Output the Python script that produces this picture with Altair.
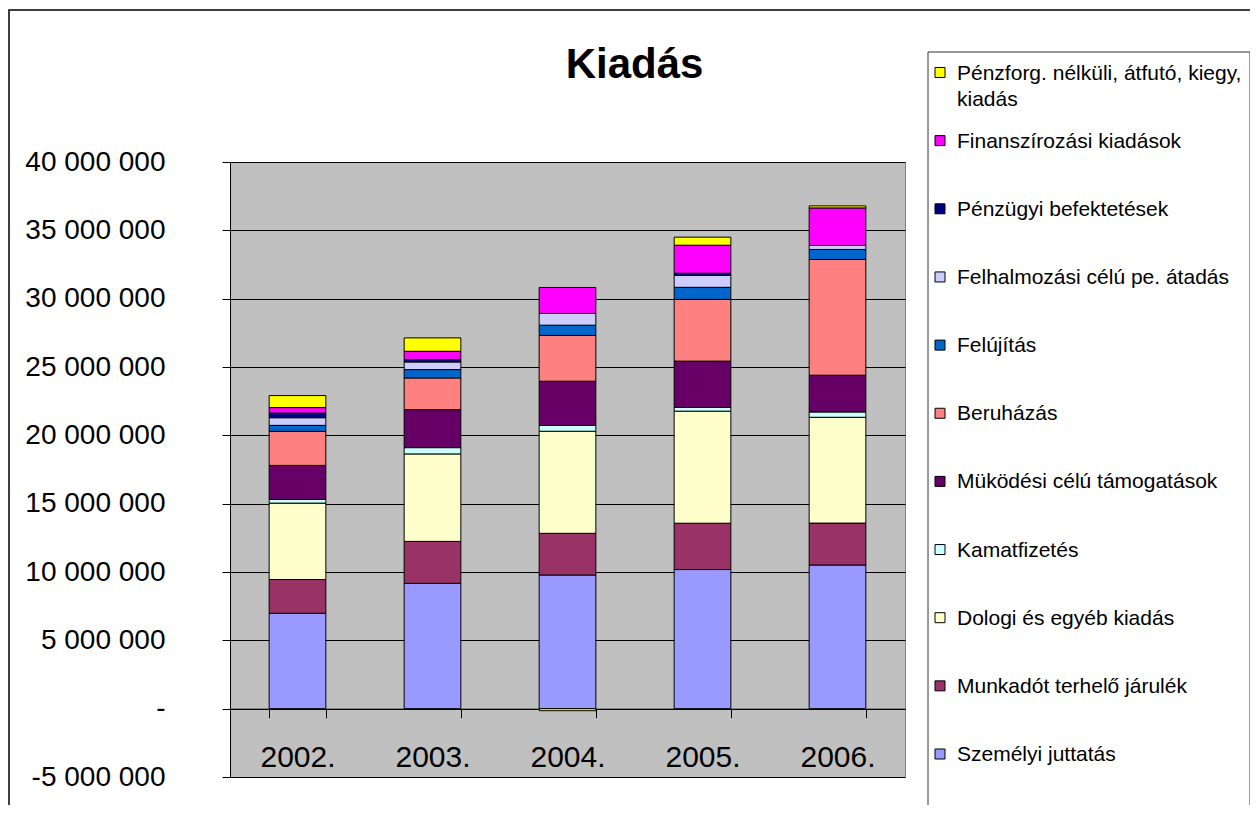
import altair as alt
import pandas as pd

years = ["2002.", "2003.", "2004.", "2005.", "2006."]

# series listed bottom -> top of the stack
series_names = [
    "Személyi juttatás",
    "Munkadót terhelő járulék",
    "Dologi és egyéb kiadás",
    "Kamatfizetés",
    "Müködési célú támogatások",
    "Beruházás",
    "Felújítás",
    "Felhalmozási célú pe. átadás",
    "Pénzügyi befektetések",
    "Finanszírozási kiadások",
    "Pénzforg. nélküli, átfutó, kiegy, kiadás",
]
series_labels = [
    "Személyi juttatás",
    "Munkadót terhelő járulék",
    "Dologi és egyéb kiadás",
    "Kamatfizetés",
    "Müködési célú támogatások",
    "Beruházás",
    "Felújítás",
    "Felhalmozási célú pe. átadás",
    "Pénzügyi befektetések",
    "Finanszírozási kiadások",
    "Pénzforg. nélküli, átfutó, kiegy,\nkiadás",
]
colors = [
    "#9999FF", "#993366", "#FFFFCC", "#CCFFFF", "#660066", "#FF8080",
    "#0066CC", "#CCCCFF", "#000080", "#FF00FF", "#FFFF00",
]

szemelyi = [6980000, 9170000, 9780000, 10180000, 10510000]
munkaado = [2470000, 3070000, 3050000, 3390000, 3070000]
dologi = [5590000, 6400000, 7470000, 8200000, 7740000]
kamat = [270000, 460000, 420000, 270000, 390000]
mukodesi = [2490000, 2780000, 3240000, 3390000, 2690000]
beruhazas = [2490000, 2320000, 3350000, 4520000, 8470000]
felujitas = [440000, 610000, 750000, 880000, 730000]
felhalmozasi = [560000, 560000, 860000, 880000, 290000]
penzugyi = [340000, 170000, 0, 150000, 0]
finanszirozasi = [400000, 610000, 1900000, 2050000, 2750000]
penzforg = [880000, 980000, -150000, 590000, 150000]

series_values = [szemelyi, munkaado, dologi, kamat, mukodesi, beruhazas,
                 felujitas, felhalmozasi, penzugyi, finanszirozasi, penzforg]

title_text = "Kiadás"

rows = []
for i, (name, vals) in enumerate(zip(series_names, series_values)):
    for year, v in zip(years, vals):
        rows.append({"year": year, "series": name, "idx": i, "value": v})
df = pd.DataFrame(rows)

legend_order = list(reversed(series_names))
legend_df = pd.DataFrame({
    "series": series_names,
    "label": series_labels,
})
frame_df = pd.DataFrame({"k": [0]})

FONT = "Liberation Sans"
color_scale = alt.Scale(domain=series_names, range=colors)

y_ticks = list(range(-5000000, 40000001, 5000000))

bars = alt.Chart(df).mark_bar(stroke="black", strokeWidth=1).encode(
    x=alt.X(
        "year:N", sort=years,
        scale=alt.Scale(paddingInner=0.58, paddingOuter=0.29),
        axis=alt.Axis(
            title=None, orient="bottom", offset=-68.3, labelAngle=0,
            labelFontSize=30, labelFont=FONT, labelColor="black",
            tickBand="extent", tickSize=9, tickColor="black",
            domainColor="black", labelPadding=25, grid=False,
        ),
    ),
    y=alt.Y(
        "value:Q", stack="zero",
        scale=alt.Scale(domain=[-5000000, 40000000], nice=False, zero=False),
        axis=alt.Axis(
            title=None, values=y_ticks,
            labelExpr="datum.value == 0 ? '-\u00a0\u00a0\u00a0' : replace(replace(replace(format(datum.value, ','), ',', ' '), ',', ' '), '\u2212', '-')",
            labelFontSize=28, labelFont=FONT, labelColor="black",
            tickSize=8, tickColor="black", domainColor="black",
            gridColor="black", gridWidth=1, labelPadding=57,
        ),
    ),
    color=alt.Color("series:N", scale=color_scale, legend=None),
    order=alt.Order("idx:Q", sort="ascending"),
)

outer_frame = alt.Chart(frame_df).mark_rect(
    fillOpacity=0, stroke="black", strokeWidth=1.5
).encode(
    x=alt.value(-221), x2=alt.value(1022), y=alt.value(-152), y2=alt.value(700)
)

title_mark = alt.Chart(frame_df).mark_text(
    align="center", baseline="alphabetic", fontSize=42, fontWeight="bold",
    font=FONT, color="black",
).encode(
    x=alt.value(404.5), y=alt.value(-84), text=alt.value(title_text)
)

legend_box = alt.Chart(frame_df).mark_rect(
    fill="white", stroke="#333333", strokeWidth=1
).encode(
    x=alt.value(698), x2=alt.value(1020), y=alt.value(-110), y2=alt.value(700)
)

leg_scale = alt.Scale(type="point", domain=legend_order, range=[-89.5, 592], padding=0)

legend_sq = alt.Chart(legend_df).mark_square(
    size=100, stroke="black", strokeWidth=1, opacity=1
).encode(
    x=alt.value(710),
    y=alt.Y("series:N", scale=leg_scale, axis=None),
    color=alt.Color("series:N", scale=color_scale, legend=None),
)

legend_txt = alt.Chart(legend_df).mark_text(
    align="left", baseline="alphabetic", dy=7, fontSize=21, font=FONT,
    lineBreak="\n", lineHeight=26, color="black",
).encode(
    x=alt.value(727),
    y=alt.Y("series:N", scale=leg_scale, axis=None),
    text="label:N",
)

chart = alt.layer(
    outer_frame, bars, title_mark, legend_box, legend_sq, legend_txt
).resolve_scale(
    y="independent"
).properties(
    width=675, height=615,
    autosize=alt.AutoSizeParams(type="none"),
    padding={"left": 222, "top": 154, "right": 345, "bottom": 28},
    background="white",
).configure_view(
    fill="#C0C0C0", stroke="#808080", strokeWidth=1
)

chart.save("out.html", embed_options={"renderer": "svg", "actions": False})
